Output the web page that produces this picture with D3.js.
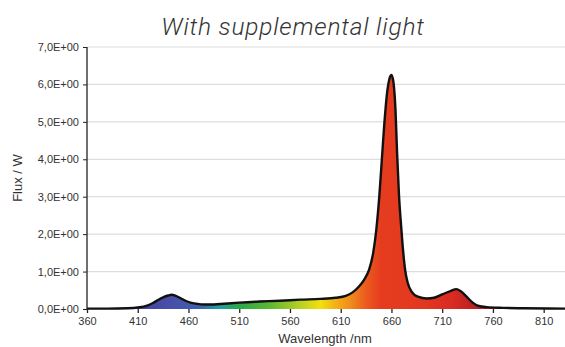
<!DOCTYPE html>
<html><head><meta charset="utf-8">
<script src="https://cdn.jsdelivr.net/npm/d3@7"></script>
<style>body{margin:0;background:#fff}svg{display:block}</style>
</head><body>
<svg id="c" width="565" height="347"></svg>
<script>
const title = "With supplemental light";
const yTicks = [0,1,2,3,4,5,6,7];
const yTickLabels = ["0,0E+00","1,0E+00","2,0E+00","3,0E+00","4,0E+00","5,0E+00","6,0E+00","7,0E+00"];
const xTicks = [360,410,460,510,560,610,660,710,760,810];
const wavelength = [360,380,400,410,420,425,430,435,440,443,447,452,457,462,468,475,485,495,510,530,550,570,590,605,615,622,628,633,638,642,645,648,650.5,653,656,658,660,662,664,665.5,667.5,669,671,673.5,676,680,686,695,702,710,718,724,728,734,740,746,754,770,790,831];
const flux = [0.01,0.01,0.02,0.04,0.10,0.16,0.24,0.31,0.36,0.38,0.36,0.29,0.22,0.17,0.14,0.12,0.12,0.14,0.17,0.20,0.22,0.25,0.27,0.30,0.35,0.45,0.60,0.78,1.05,1.50,2.10,3.00,3.98,4.96,5.85,6.15,6.25,6.05,5.30,4.20,3.00,2.40,1.70,1.04,0.70,0.46,0.33,0.28,0.30,0.39,0.48,0.53,0.48,0.33,0.17,0.08,0.05,0.03,0.02,0.01];
const gradWl = [400,440,470,490,510,540,570,590,605,620,635,650,690,720,745];
const gradCol = ["#3b3f99","#4a4ea8","#3d5fb0","#1fa0a0","#2aa84a","#5cb832","#b8d020","#f2e010","#f5b016","#f08a1e","#ec5a1c","#e53c1f","#e3381f","#d92b22","#b81e22"];

const data = wavelength.map((w,i)=>({w, f: flux[i]}));
const svg = d3.select("#c");
const x = d3.scaleLinear().domain([360,831]).range([87,565]);
const y = d3.scaleLinear().domain([0,7]).range([309,47]);

const defs = svg.append("defs");
const lg = defs.append("linearGradient").attr("id","spec").attr("gradientUnits","userSpaceOnUse")
  .attr("x1", x(360)).attr("x2", x(831)).attr("y1",0).attr("y2",0);
gradWl.forEach((w,i)=>lg.append("stop").attr("offset",(w-360)/(831-360)).attr("stop-color",gradCol[i]));

svg.append("g").selectAll("line").data(yTicks.filter(d=>d>0)).join("line")
  .attr("x1",87).attr("x2",565).attr("y1",d=>y(d)).attr("y2",d=>y(d))
  .attr("stroke","#dddddd").attr("stroke-width",1.2);

svg.append("path").datum(data)
  .attr("d", d3.area().x(d=>x(d.w)).y0(y(0)).y1(d=>y(d.f)).curve(d3.curveMonotoneX))
  .attr("fill","url(#spec)");
svg.append("path").datum(data)
  .attr("d", d3.line().x(d=>x(d.w)).y(d=>y(d.f)).curve(d3.curveMonotoneX))
  .attr("fill","none").attr("stroke","#111").attr("stroke-width",2.4);

const ya = d3.axisLeft(y).tickValues(yTicks).tickFormat((d,i)=>yTickLabels[i]).tickSize(4).tickPadding(4);
const yg = svg.append("g").attr("transform","translate(87,0)").call(ya);
yg.select(".domain").attr("stroke","#222").attr("stroke-width",1.3).attr("d","M0,47V310");
yg.selectAll(".tick line").attr("stroke","#222");
yg.selectAll("text").attr("font-family","Liberation Sans, Arial, sans-serif").attr("font-size",11).attr("fill","#333");

const xa = d3.axisBottom(x).tickValues(xTicks).tickFormat(d3.format("d")).tickSize(4).tickPadding(4);
const xg = svg.append("g").attr("transform","translate(0,309)").call(xa);
xg.select(".domain").remove();
xg.selectAll(".tick line").attr("stroke","#222").attr("stroke-width",1.3);
xg.selectAll("text").attr("font-family","Liberation Sans, Arial, sans-serif").attr("font-size",11).attr("fill","#333");

svg.append("text").attr("x",293).attr("y",35).attr("text-anchor","middle")
  .attr("font-family","Roboto, sans-serif").attr("font-weight",300).attr("font-style","italic")
  .attr("font-size",24.5).attr("letter-spacing",0.8).attr("fill","#333").text(title);
svg.append("text").attr("x",325).attr("y",343).attr("text-anchor","middle")
  .attr("font-family","Liberation Sans, Arial, sans-serif").attr("font-size",13).attr("fill","#333").text("Wavelength /nm");
svg.append("text").attr("transform","translate(22,178) rotate(-90)").attr("text-anchor","middle")
  .attr("font-family","Liberation Sans, Arial, sans-serif").attr("font-size",13).attr("fill","#333").text("Flux / W");
</script>
</body></html>
